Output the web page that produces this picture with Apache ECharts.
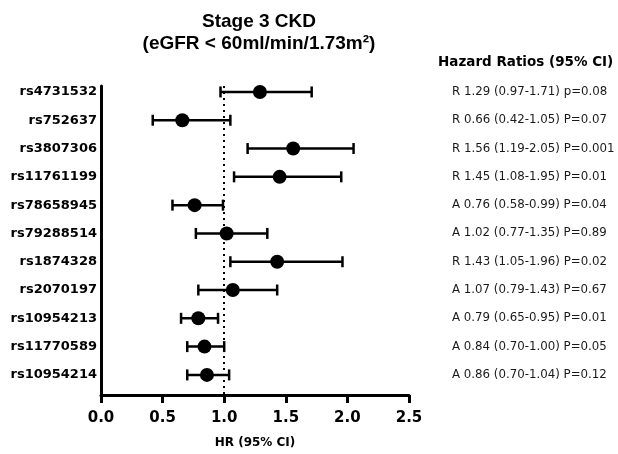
<!DOCTYPE html>
<html><head><meta charset="utf-8">
<script src="https://cdn.jsdelivr.net/npm/echarts@6/dist/echarts.min.js"></script>
<style>html,body{margin:0;padding:0;background:#fff}#c{width:618px;height:454px}</style>
</head><body><div id="c"></div>
<script>
var snps = ['rs4731532','rs752637','rs3807306','rs11761199','rs78658945','rs79288514','rs1874328','rs2070197','rs10954213','rs11770589','rs10954214'];
var allele = ['R','R','R','R','A','A','R','A','A','A','A'];
var hr = [1.29,0.66,1.56,1.45,0.76,1.02,1.43,1.07,0.79,0.84,0.86];
var lo = [0.97,0.42,1.19,1.08,0.58,0.77,1.05,0.79,0.65,0.70,0.70];
var hi = [1.71,1.05,2.05,1.95,0.99,1.35,1.96,1.43,0.95,1.00,1.04];
var pText = ['p=0.08','P=0.07','P=0.001','P=0.01','P=0.04','P=0.89','P=0.02','P=0.67','P=0.01','P=0.05','P=0.12'];

var idx = snps.map(function(_, i){ return i; });
var ciData = idx.map(function(i){ return [i, lo[i], hi[i], hr[i]]; });
var ptData = idx.map(function(i){ return [hr[i], i]; });

var chart = echarts.init(document.getElementById('c'), null, {renderer:'canvas'});
chart.setOption({
  animation:false,
  backgroundColor:'#fff',
  title:[
    {text:'Stage 3 CKD\n(eGFR < 60ml/min/1.73m\u00b2)', left:254, top:6, textAlign:'center',
     textStyle:{fontFamily:'Liberation Sans', fontWeight:'bold', fontSize:19, lineHeight:22, color:'#000'}},
    {text:'Hazard Ratios (95% CI)', left:433, top:50,
     textStyle:{fontFamily:'DejaVu Sans', fontWeight:'bold', fontSize:13.5, color:'#000'}}
  ],
  grid:{left:101, right:209, top:86, bottom:59, containLabel:false},
  xAxis:{type:'value', min:0, max:2.5, interval:0.5,
    name:'HR (95% CI)', nameLocation:'middle', nameGap:42,
    nameTextStyle:{fontFamily:'DejaVu Sans', fontWeight:'bold', fontSize:12, color:'#000'},
    axisLine:{show:true, onZero:false, lineStyle:{color:'#000', width:3}},
    axisTick:{show:true, length:8, lineStyle:{color:'#000', width:3}},
    axisLabel:{show:true, margin:16, fontFamily:'DejaVu Sans', fontWeight:'bold', fontSize:15, color:'#000',
      formatter:function(v){ return v.toFixed(1); }},
    splitLine:{show:false}},
  yAxis:[
    {type:'value', min:-0.21, max:10.71, inverse:true,
     axisLine:{show:true, onZero:false, lineStyle:{color:'#000', width:3}},
     axisTick:{show:false}, splitLine:{show:false},
     axisLabel:{show:true, customValues:idx, margin:4, fontFamily:'DejaVu Sans', fontWeight:'bold', fontSize:13, color:'#000',
       formatter:function(v){ return snps[Math.round(v)] || ''; }}},
    {type:'value', position:'right', min:-0.21, max:10.71, inverse:true,
     axisLine:{show:false}, axisTick:{show:false}, splitLine:{show:false},
     axisLabel:{show:true, customValues:idx, margin:43, fontFamily:'DejaVu Sans', fontSize:11.8, color:'#1a1a1a', align:'left',
       formatter:function(v){ var i=Math.round(v); return allele[i]+' '+hr[i].toFixed(2)+' ('+lo[i].toFixed(2)+'-'+hi[i].toFixed(2)+') '+pText[i]; }}}
  ],
  series:[
    {type:'custom', yAxisIndex:0, data:ciData, encode:{x:[1,2], y:0},
     renderItem:function(params, api){
       var y = api.value(0);
       var a = api.coord([api.value(1), y]);
       var b = api.coord([api.value(2), y]);
       var h = 5.5;
       var st = {stroke:'#000', lineWidth:2.5};
       return {type:'group', children:[
         {type:'line', shape:{x1:a[0], y1:a[1], x2:b[0], y2:b[1]}, style:st},
         {type:'line', shape:{x1:a[0], y1:a[1]-h, x2:a[0], y2:a[1]+h}, style:st},
         {type:'line', shape:{x1:b[0], y1:b[1]-h, x2:b[0], y2:b[1]+h}, style:st}
       ]};
     }},
    {type:'scatter', yAxisIndex:0, data:ptData, symbol:'circle', symbolSize:14,
     itemStyle:{color:'#000', opacity:1}, z:5,
     markLine:{silent:true, symbol:'none', label:{show:false},
       lineStyle:{color:'#000', type:[2,4], width:2},
       data:[{xAxis:1}]}}
  ]
});
</script></body></html>
